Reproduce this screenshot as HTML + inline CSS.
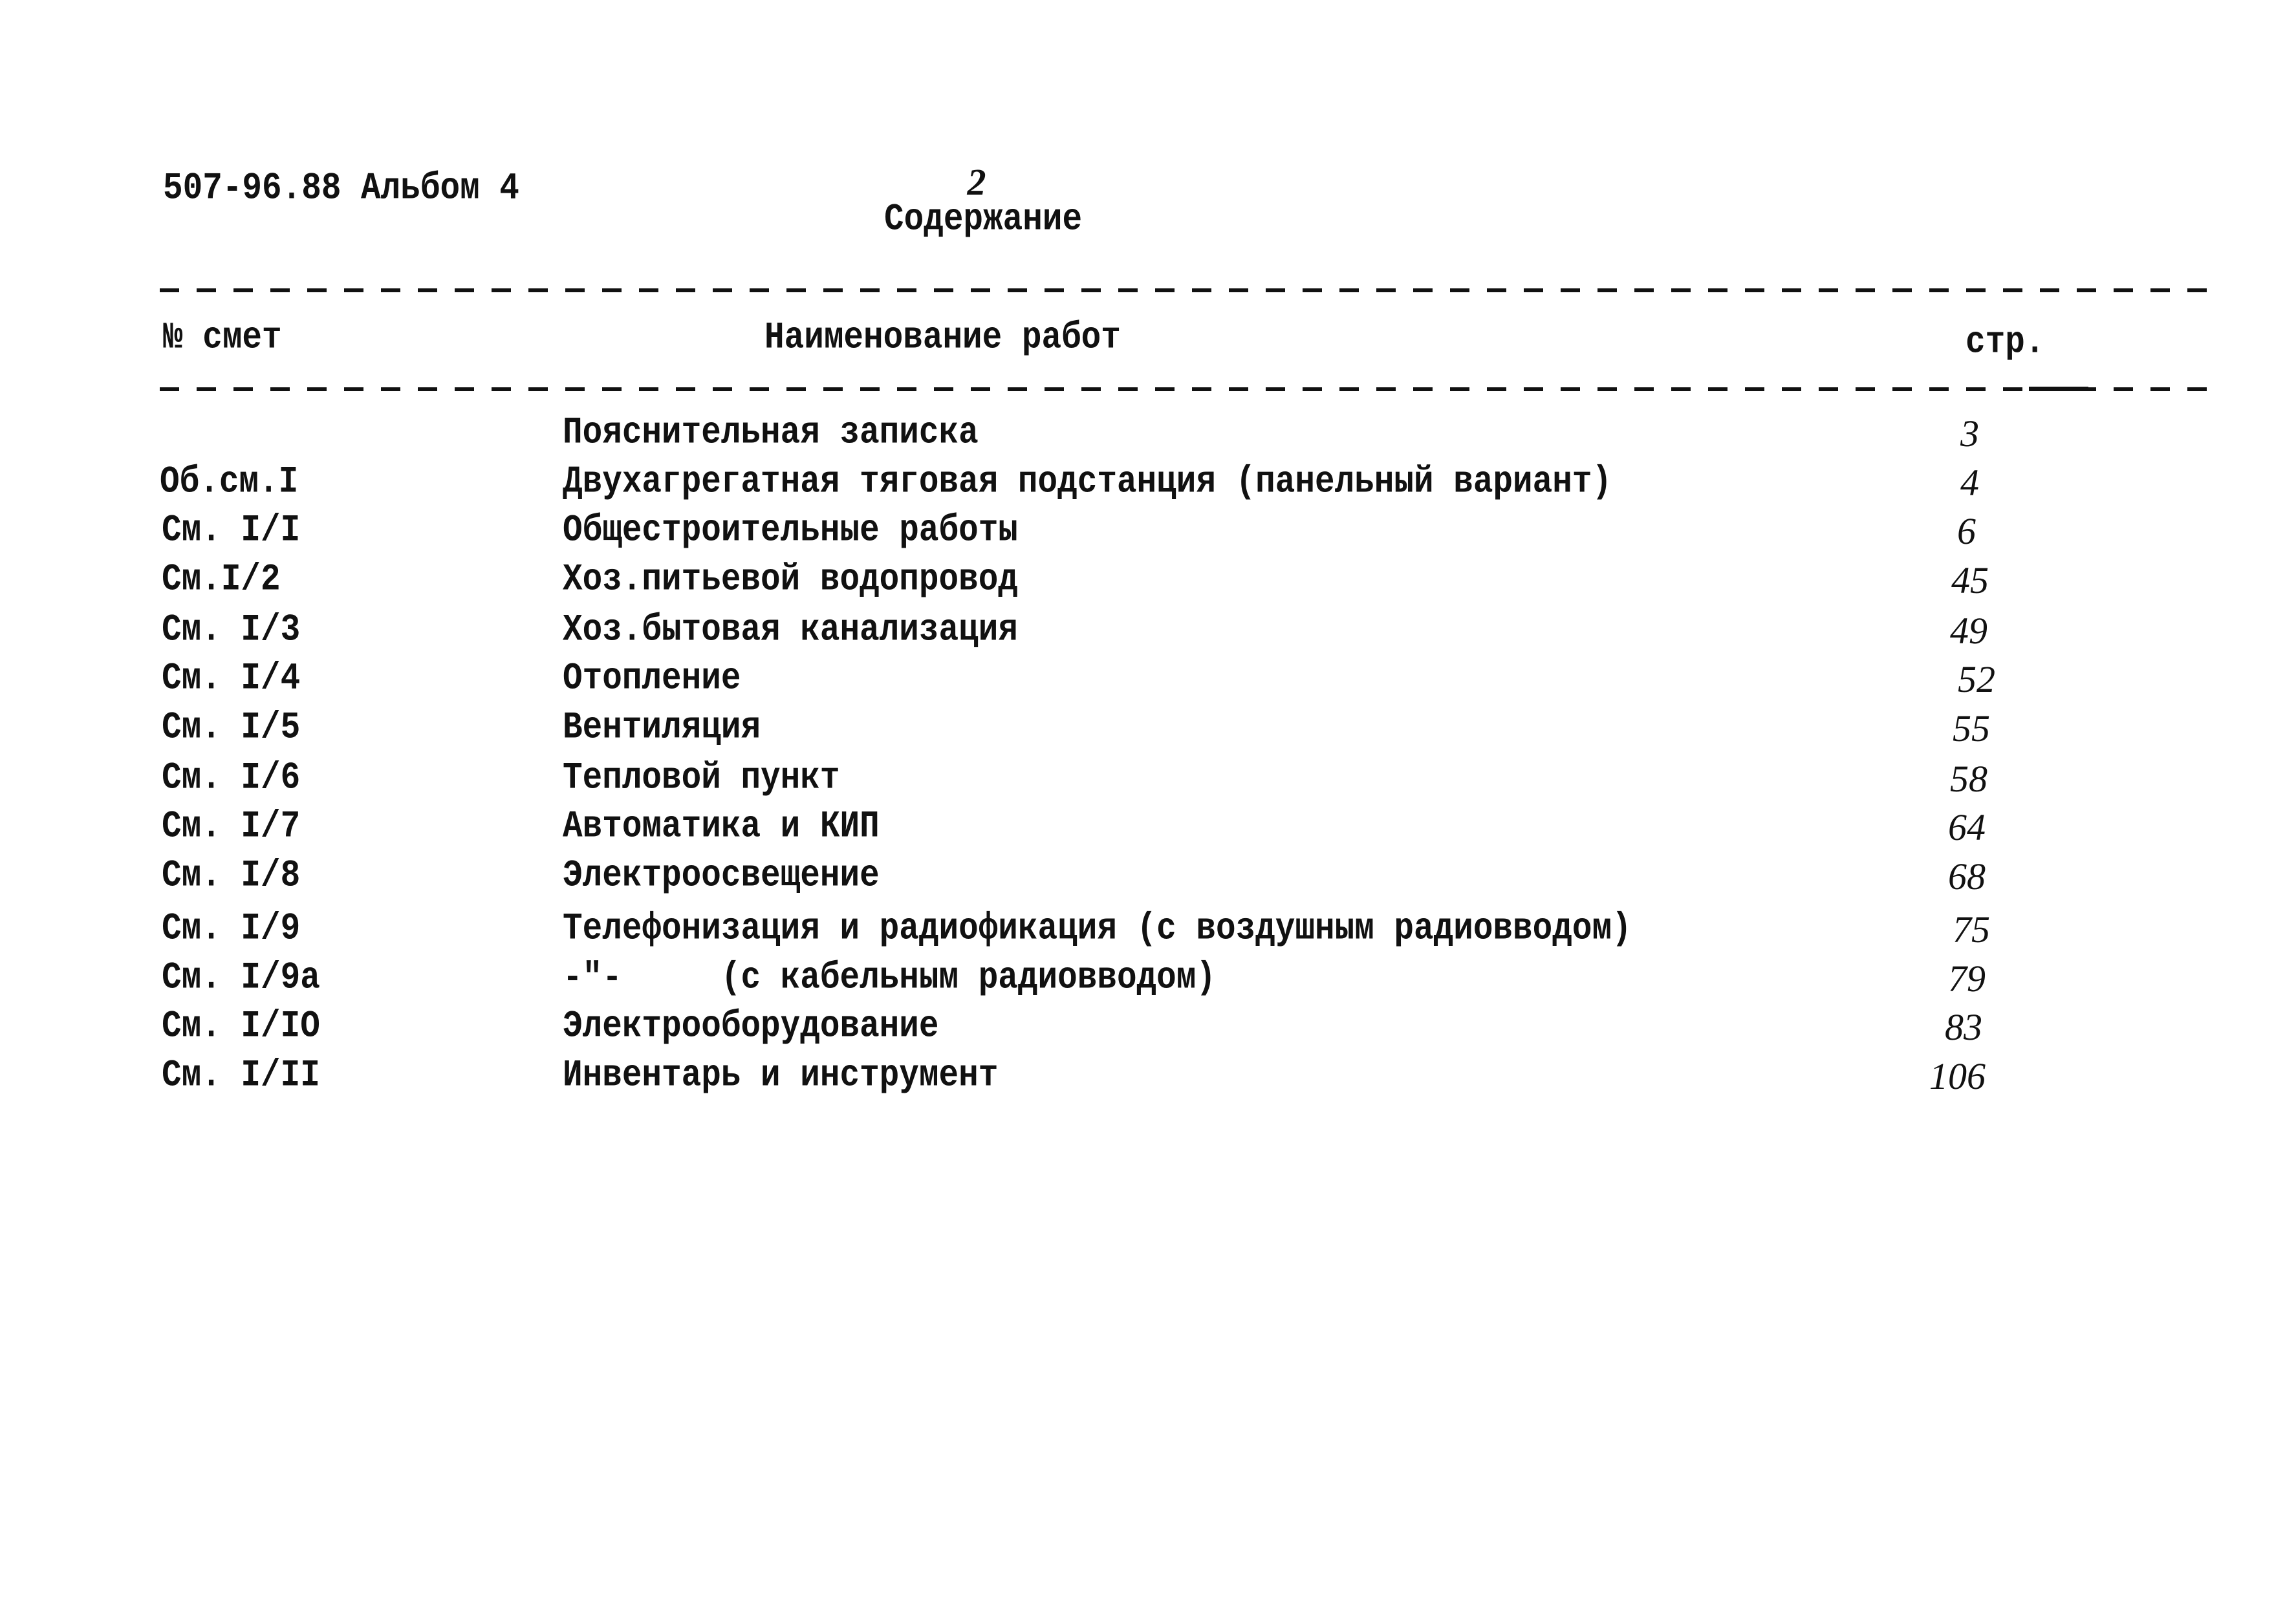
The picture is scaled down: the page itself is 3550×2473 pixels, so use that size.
<!DOCTYPE html>
<html><head><meta charset="utf-8"><style>
html,body{margin:0;padding:0;background:#fff;}
body{width:3550px;height:2473px;position:relative;overflow:hidden;font-family:"Liberation Mono","DejaVu Sans Mono",monospace;color:#111;}
.t{position:absolute;font-size:51px;line-height:60px;height:60px;white-space:pre;transform:scaleY(1.14);transform-origin:left center;font-weight:bold;}
.h{position:absolute;font-family:"Liberation Serif",serif;font-style:italic;font-size:58px;line-height:60px;height:60px;width:200px;text-align:right;white-space:pre;}
.d{position:absolute;left:247px;width:3177px;height:6px;background:repeating-linear-gradient(90deg,#111 0 30px,transparent 30px 57px);}
</style></head><body>
<div class="t" style="left:252px;top:263px">507-96.88 Альбом 4</div>
<div class="h" style="left:1330px;top:252px;text-align:center;width:360px;font-weight:bold">2</div>
<div class="t" style="left:1367px;top:311px">Содержание</div>
<div class="d" style="top:446px"></div>
<div class="t" style="left:252px;top:494px">№ смет</div>
<div class="t" style="left:1182px;top:494px">Наименование работ</div>
<div class="t" style="left:3039px;top:501px">стр.</div>
<div class="d" style="top:599px"></div>
<div style="position:absolute;left:3137px;top:598px;width:92px;height:7px;background:#111"></div>

<div class="t" style="left:870px;top:641px">Пояснительная записка</div><div class="h" style="left:2860px;top:641px">3</div>
<div class="t" style="left:247px;top:717px">Об.см.I</div><div class="t" style="left:870px;top:717px">Двухагрегатная тяговая подстанция (панельный вариант)</div><div class="h" style="left:2860px;top:717px">4</div>
<div class="t" style="left:250px;top:792px">См. I/I</div><div class="t" style="left:870px;top:792px">Общестроительные работы</div><div class="h" style="left:2855px;top:792px">6</div>
<div class="t" style="left:250px;top:868px">См.I/2</div><div class="t" style="left:870px;top:868px">Хоз.питьевой водопровод</div><div class="h" style="left:2875px;top:868px">45</div>
<div class="t" style="left:250px;top:946px">См. I/3</div><div class="t" style="left:870px;top:946px">Хоз.бытовая канализация</div><div class="h" style="left:2873px;top:946px">49</div>
<div class="t" style="left:250px;top:1021px">См. I/4</div><div class="t" style="left:870px;top:1021px">Отопление</div><div class="h" style="left:2885px;top:1021px">52</div>
<div class="t" style="left:250px;top:1097px">См. I/5</div><div class="t" style="left:870px;top:1097px">Вентиляция</div><div class="h" style="left:2877px;top:1097px">55</div>
<div class="t" style="left:250px;top:1175px">См. I/6</div><div class="t" style="left:870px;top:1175px">Тепловой пункт</div><div class="h" style="left:2873px;top:1175px">58</div>
<div class="t" style="left:250px;top:1250px">См. I/7</div><div class="t" style="left:870px;top:1250px">Автоматика и КИП</div><div class="h" style="left:2870px;top:1250px">64</div>
<div class="t" style="left:250px;top:1326px">См. I/8</div><div class="t" style="left:870px;top:1326px">Электроосвещение</div><div class="h" style="left:2870px;top:1326px">68</div>
<div class="t" style="left:250px;top:1408px">См. I/9</div><div class="t" style="left:870px;top:1408px">Телефонизация и радиофикация (с воздушным радиовводом)</div><div class="h" style="left:2877px;top:1408px">75</div>
<div class="t" style="left:250px;top:1484px">См. I/9а</div><div class="t" style="left:870px;top:1484px">-"-     (с кабельным радиовводом)</div><div class="h" style="left:2870px;top:1484px">79</div>
<div class="t" style="left:250px;top:1559px">См. I/IO</div><div class="t" style="left:870px;top:1559px">Электрооборудование</div><div class="h" style="left:2865px;top:1559px">83</div>
<div class="t" style="left:250px;top:1635px">См. I/II</div><div class="t" style="left:870px;top:1635px">Инвентарь и инструмент</div><div class="h" style="left:2870px;top:1635px">106</div>
</body></html>
